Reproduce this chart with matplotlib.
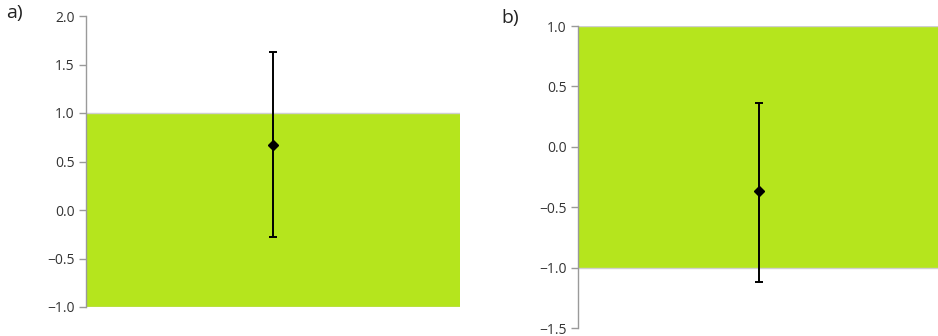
import matplotlib
matplotlib.use("Agg")
import matplotlib.pyplot as plt

plt.rcParams['font.family'] = ['Open Sans', 'DejaVu Sans']

# band limits and interval estimates for the two panels
panels = ['a)', 'b)']
band_low = [-1.0, -1.0]
band_high = [1.0, 1.0]
est = [0.67, -0.37]
ci_low = [-0.28, -1.12]
ci_high = [1.63, 0.36]
ylims = [(-1.0, 2.0), (-1.5, 1.0)]
yticks = [[-1.0, -0.5, 0.0, 0.5, 1.0, 1.5, 2.0],
          [-1.5, -1.0, -0.5, 0.0, 0.5, 1.0]]

green = '#b5e51d'
grey = '#9a9a9a'

W, H = 938, 336
fig = plt.figure(figsize=(W / 100, H / 100), dpi=100)

# axes boxes in pixels: left, bottom, width, height
boxes = [(86, 29, 374, 291), (578, 8, 362, 302)]
label_pos = [(6, 4), (501, 9)]

for i in range(2):
    l, b, w, h = boxes[i]
    ax = fig.add_axes([l / W, b / H, w / W, h / H])
    ax.set_xlim(0, 1)
    ax.set_ylim(*ylims[i])

    ax.bar(0.5, band_high[i] - band_low[i], bottom=band_low[i], width=1.0,
           color=green, linewidth=0, zorder=1)
    ax.hlines([band_low[i], band_high[i]], 0, 1, color='#cfcfcf', lw=1, zorder=2)

    ax.errorbar([0.5], [est[i]],
                yerr=[[est[i] - ci_low[i]], [ci_high[i] - est[i]]],
                fmt='D', color='black', ms=5, elinewidth=1.4,
                capsize=3, capthick=1.4, zorder=3)

    for s in ['top', 'right', 'bottom']:
        ax.spines[s].set_visible(False)
    ax.spines['left'].set_color(grey)
    ax.spines['left'].set_linewidth(1)
    ax.set_xticks([])
    ax.set_yticks(yticks[i])
    ax.set_yticklabels([('%.1f' % t).replace('-', '\u2212') for t in yticks[i]])
    ax.tick_params(axis='y', colors=grey, length=5, width=1, labelsize=10,
                   labelcolor='#333333', pad=3)

    fx, fy = label_pos[i]
    fig.text(fx / W, 1 - fy / H, panels[i], fontsize=14, color='#222222',
             ha='left', va='top')

fig.savefig('out.png', dpi=100)
